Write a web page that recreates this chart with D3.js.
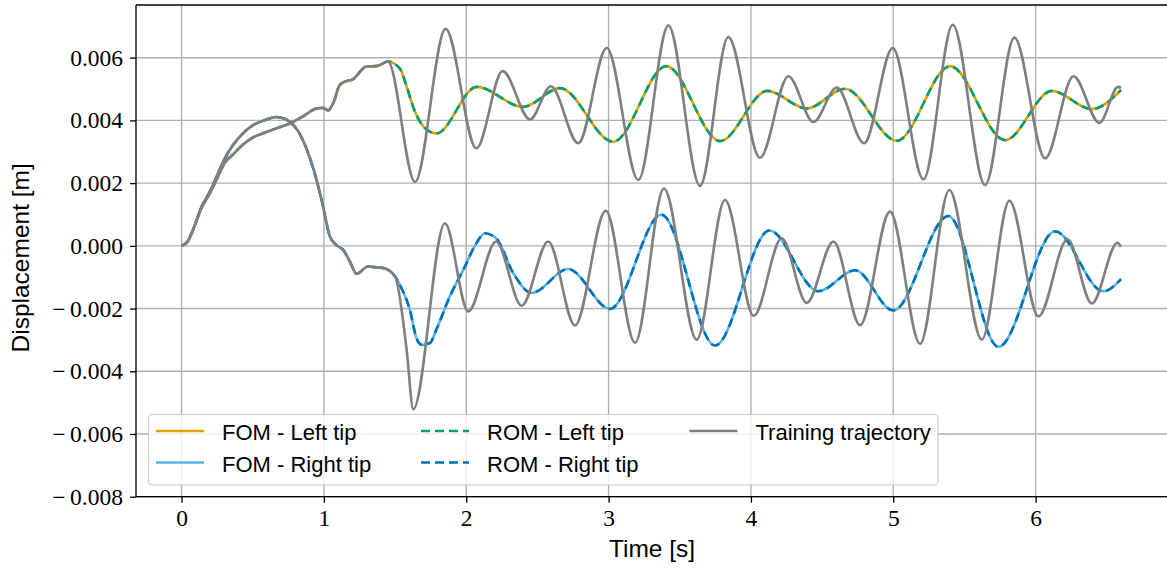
<!DOCTYPE html>
<html>
<head>
<meta charset="utf-8">
<script src="https://cdn.jsdelivr.net/npm/d3@7"></script>
<style>
  html, body { margin: 0; padding: 0; background: #fff; }
  svg { display: block; }
</style>
</head>
<body>
<svg id="chart" width="1167" height="569"></svg>
<script>
// ---------- DATA (time [s], displacement [m]) ----------
const xTicks = [0, 1, 2, 3, 4, 5, 6];
const yTicks = [-0.008, -0.006, -0.004, -0.002, 0.000, 0.002, 0.004, 0.006];

// common part of the trajectories (FOM / ROM / training coincide)
const sharedLeft = [[0,0],[0.04,0.00012],[0.08,0.0005],[0.14,0.00121],[0.2,0.00169],[0.25,0.00215],[0.3,0.00262],
  [0.363,0.00292],[0.43,0.00322],[0.503,0.00346],[0.597,0.00363],[0.68,0.00377],[0.761,0.0039],[0.85,0.00412],
  [0.948,0.00438],[0.99,0.0044],[1.03,0.00432],[1.07,0.0046],[1.11,0.00512],[1.15,0.00524],[1.2,0.0053],
  [1.3,0.00572],[1.37,0.00573],[1.45,0.00588]];
const sharedRight = [[0,0],[0.04,0.00012],[0.08,0.0005],[0.14,0.00124],[0.2,0.00174],[0.25,0.00225],[0.3,0.00275],
  [0.363,0.00322],[0.43,0.00358],[0.503,0.00385],[0.58,0.004],[0.665,0.00411],[0.72,0.00406],[0.761,0.00395],
  [0.82,0.00365],[0.876,0.00312],[0.93,0.0024],[0.984,0.00146],[1.042,0.0003],[1.087,0.00003],[1.136,-0.00013],
  [1.18,-0.00048],[1.23,-0.00089],[1.31,-0.00066],[1.36,-0.00068],[1.417,-0.00071],[1.5,-0.00098]];

// FOM (the ROM reproduces it)
const fomLeftLate = [[1.534,0.00565],[1.58,0.0051],[1.627,0.00443],[1.7,0.0038],[1.79,0.00358],[2.073,0.00507],
  [2.4,0.00443],[2.658,0.00503],[3.033,0.00332],[3.405,0.00573],[3.783,0.00334],[4.115,0.00494],[4.392,0.00438],
  [4.661,0.00501],[5.025,0.00335],[5.399,0.00573],[5.786,0.00337],[6.114,0.00494],[6.395,0.00436],[6.6,0.00497]];
const fomRightLate = [[1.55,-0.0014],[1.604,-0.00204],[1.651,-0.00295],[1.69,-0.00316],[1.745,-0.0031],[1.79,-0.00267],
  [1.885,-0.00161],[1.98,-0.00076],[2.073,0.0001],[2.131,0.0004],[2.214,0.00022],[2.33,-0.00087],[2.46,-0.0015],
  [2.717,-0.00074],[3.01,-0.00201],[3.371,0.00099],[3.748,-0.00318],[4.13,0.00049],[4.474,-0.00145],[4.732,-0.00078],
  [5.0,-0.00206],[5.387,0.00095],[5.739,-0.00322],[6.137,0.00046],[6.476,-0.00145],[6.6,-0.00106]];

// Training trajectory
const trainLeftLate = [[1.64,0.00204],[1.855,0.00692],[2.071,0.00311],[2.256,0.00557],[2.448,0.00403],[2.595,0.00509],
  [2.787,0.00327],[2.987,0.00631],[3.209,0.0021],[3.42,0.00703],[3.642,0.00191],[3.841,0.00666],[4.064,0.00281],
  [4.263,0.00541],[4.439,0.00395],[4.603,0.00505],[4.795,0.00327],[4.996,0.00631],[5.212,0.00212],[5.418,0.00705],
  [5.645,0.00194],[5.851,0.00664],[6.067,0.00279],[6.266,0.00541],[6.448,0.00392],[6.58,0.00507],[6.6,0.00503]];
const trainRightLate = [[1.581,-0.0033],[1.628,-0.00521],[1.85,0.00072],[2.014,-0.00209],[2.21,0.00014],[2.389,-0.00191],
  [2.576,0.00014],[2.764,-0.00254],[2.98,0.00112],[3.186,-0.00309],[3.389,0.00183],[3.619,-0.00299],[3.818,0.00146],
  [4.02,-0.00223],[4.216,0.00024],[4.392,-0.00182],[4.58,0.00014],[4.767,-0.00253],[4.977,0.00109],[5.188,-0.00312],
  [5.394,0.00178],[5.622,-0.00299],[5.816,0.00144],[6.02,-0.00225],[6.224,0.00021],[6.395,-0.00184],[6.575,0.0001],
  [6.6,-0.00003]];

const legendLabels = ["FOM - Left tip", "FOM - Right tip", "ROM - Left tip", "ROM - Right tip", "Training trajectory"];

// ---------- SERIES ----------
const series = [
  {name: legendLabels[0], data: sharedLeft.concat(fomLeftLate),  color: "#E69F00", dash: null},
  {name: legendLabels[1], data: sharedRight.concat(fomRightLate), color: "#56B4E9", dash: null},
  {name: legendLabels[2], data: sharedLeft.concat(fomLeftLate),  color: "#009E73", dash: "9,5"},
  {name: legendLabels[3], data: sharedRight.concat(fomRightLate), color: "#0072B2", dash: "9,5"},
  {name: legendLabels[4], data: sharedLeft.concat(trainLeftLate), color: "#7f7f7f", dash: null},
  {name: null,            data: sharedRight.concat(trainRightLate), color: "#7f7f7f", dash: null}
];

// ---------- LAYOUT ----------
const L = 136, R = 1168, T = 5, B = 496.7;
const svg = d3.select("#chart");
const x = d3.scaleLinear().domain([-0.32, 6.93]).range([L, R]);
const y = d3.scaleLinear().domain([-0.008, 0.00768]).range([B, T]);

const serif = "'Liberation Serif', 'DejaVu Serif', serif";
const sans = "'Liberation Sans', Arial, sans-serif";

// grid
const grid = svg.append("g");
grid.selectAll(".vg").data(xTicks).enter().append("line")
  .attr("x1", d => x(d)).attr("x2", d => x(d)).attr("y1", T).attr("y2", B)
  .attr("stroke", "#b0b0b0").attr("stroke-width", 1.4);
grid.selectAll(".hg").data(yTicks).enter().append("line")
  .attr("x1", L).attr("x2", R).attr("y1", d => y(d)).attr("y2", d => y(d))
  .attr("stroke", "#b0b0b0").attr("stroke-width", 1.4);

// lines
const line = d3.line().x(d => x(d[0])).y(d => y(d[1])).curve(d3.curveMonotoneX);
svg.append("g").selectAll("path").data(series).enter().append("path")
  .attr("d", d => line(d.data))
  .attr("fill", "none")
  .attr("stroke", d => d.color)
  .attr("stroke-width", 2.6)
  .attr("stroke-dasharray", d => d.dash)
  .attr("stroke-linejoin", "round");

// axes
const fmtY = v => {
  const s = d3.format(".3f")(Math.abs(v));
  return v < -1e-12 ? "\u2212\u2009" + s : s;
};
const xAxis = d3.axisBottom(x).tickValues(xTicks).tickSize(6).tickPadding(7).tickFormat(d3.format("d"));
const yAxis = d3.axisLeft(y).tickValues(yTicks).tickSize(6).tickPadding(7).tickFormat(fmtY);

const gx = svg.append("g").attr("transform", `translate(0,${B})`).call(xAxis);
const gy = svg.append("g").attr("transform", `translate(${L},0)`).call(yAxis);
[gx, gy].forEach(g => {
  g.select(".domain").remove();
  g.selectAll(".tick line").attr("stroke", "#000").attr("stroke-width", 1.3);
  g.selectAll(".tick text").attr("fill", "#000").style("font-family", serif).style("font-size", "23.5px");
});

// spines
svg.append("line").attr("x1", L).attr("x2", L).attr("y1", T).attr("y2", B).attr("stroke", "#000").attr("stroke-width", 1.3);
svg.append("line").attr("x1", L).attr("x2", R).attr("y1", B).attr("y2", B).attr("stroke", "#000").attr("stroke-width", 1.3);
svg.append("line").attr("x1", L).attr("x2", R).attr("y1", T).attr("y2", T).attr("stroke", "#000").attr("stroke-width", 1.3);
svg.append("line").attr("x1", R).attr("x2", R).attr("y1", T).attr("y2", B).attr("stroke", "#000").attr("stroke-width", 1.3);

// axis labels
svg.append("text").attr("x", (L + R) / 2).attr("y", 557).attr("text-anchor", "middle")
  .style("font-family", sans).style("font-size", "24.5px").attr("fill", "#000").text("Time [s]");
svg.append("text").attr("transform", `translate(29,${(T + B) / 2 + 7}) rotate(-90)`).attr("text-anchor", "middle")
  .style("font-family", sans).style("font-size", "24.5px").attr("fill", "#000").text("Displacement [m]");

// legend
const lg = svg.append("g");
lg.append("rect").attr("x", 148.5).attr("y", 414.5).attr("width", 789.5).attr("height", 70.5)
  .attr("rx", 4).attr("ry", 4).attr("fill", "#fff").attr("fill-opacity", 0.8)
  .attr("stroke", "#cccccc").attr("stroke-width", 1.2);
const colX = [156, 421, 689.5];
const rowY = [431, 462.5];
series.filter(s => s.name).forEach((s, i) => {
  const c = Math.floor(i / 2), r = i % 2;
  const hx = colX[c], hy = rowY[r];
  lg.append("line").attr("x1", hx).attr("x2", hx + 48).attr("y1", hy).attr("y2", hy)
    .attr("stroke", s.color).attr("stroke-width", 2.6).attr("stroke-dasharray", s.dash);
  lg.append("text").attr("x", hx + 66).attr("y", hy + 9)
    .style("font-family", sans).style("font-size", "22px").attr("fill", "#000").text(s.name);
});
</script>
</body>
</html>
